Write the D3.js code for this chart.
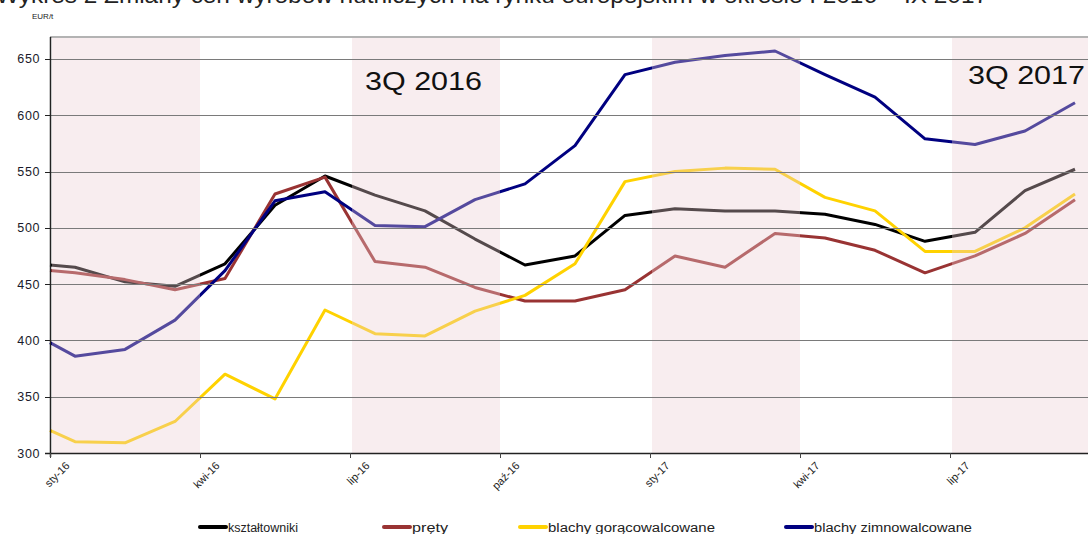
<!DOCTYPE html>
<html>
<head>
<meta charset="utf-8">
<script src="https://cdn.jsdelivr.net/npm/d3@7"></script>
<style>
  html, body { margin: 0; padding: 0; background: #fff; overflow: hidden; }
  svg { display: block; font-family: "Liberation Sans", Arial, sans-serif; }
</style>
</head>
<body>
<svg id="chart" width="1088" height="534"></svg>
<script>
// month offsets from 1 Jan 2016: line start, then mid-month points I 2016 .. IX 2017
var monthPos = [0, 0.5, 1.5, 2.5, 3.5, 4.5, 5.5, 6.5, 7.5, 8.5, 9.5, 10.5, 11.5, 12.5, 13.5, 14.5, 15.5, 16.5, 17.5, 18.5, 19.5, 20.5];

var ksztaltowniki = [467, 465, 452, 448, 468, 520, 546, 529, 515, 490, 467, 475, 511, 517, 515, 515, 512, 503, 488, 496, 533, 552];
var prety = [462, 460, 454, 445, 455, 530, 545, 470, 465, 447, 435, 435, 445, 475, 465, 495, 491, 480, 460, 475, 495, 525];
var blachyGoraco = [320, 310, 309, 328, 370, 348, 427, 406, 404, 426, 440, 468, 541, 550, 553, 552, 527, 515, 479, 479, 500, 530];
var blachyZimno = [398, 386, 392, 418, 462, 524, 532, 502, 501, 525, 539, 573, 636, 647, 653, 657, 636, 616, 579, 574, 586, 611];

var tickMonths = [0, 3, 6, 9, 12, 15, 18];
var tickLabels = ["sty-16", "kwi-16", "lip-16", "paź-16", "sty-17", "kwi-17", "lip-17"];
var yTicks = [300, 350, 400, 450, 500, 550, 600, 650];
// shaded quarters (start month, end month)
var quarters = [[0, 3], [6, 9], [12, 15], [18, 21]];

var seriesNames = ["kształtowniki", "pręty", "blachy gorącowalcowane", "blachy zimnowalcowane"];
var seriesColors = ["#000000", "#993333", "#ffd200", "#000080"];

var svg = d3.select("#chart");
var plotLeft = 50, plotTop = 37, plotBottom = 453;

var x = d3.scaleLinear().domain([0, 21]).range([plotLeft, plotLeft + 21 * 50]);
var y = d3.scaleLinear().domain([300, 300 + (plotBottom - plotTop) / 1.126]).range([plotBottom, plotTop]);

// title (cut off at top in the original)
svg.append("text")
  .attr("x", -4).attr("y", 3)
  .attr("font-size", 22)
  .attr("fill", "#222")
  .attr("textLength", 992).attr("lengthAdjust", "spacingAndGlyphs")
  .text("Wykres 2  Zmiany cen wyrobów hutniczych na rynku europejskim w okresie I 2016 – IX 2017");

svg.append("text")
  .attr("x", 32).attr("y", 19)
  .attr("font-size", 8).attr("fill", "#222")
  .text("EUR/t");

// plot top border
svg.append("line")
  .attr("x1", plotLeft).attr("x2", 1088)
  .attr("y1", plotTop).attr("y2", plotTop)
  .attr("stroke", "#9a9a9a").attr("stroke-width", 1.5);

// lines
var allSeries = [ksztaltowniki, prety, blachyGoraco, blachyZimno];
var line = d3.line()
  .x(function(d, i) { return x(monthPos[i]); })
  .y(function(d) { return y(d); });

svg.append("g").selectAll("path").data(allSeries).enter().append("path")
  .attr("d", line)
  .attr("fill", "none")
  .attr("stroke", function(d, i) { return seriesColors[i]; })
  .attr("stroke-width", 3)
  .attr("stroke-linejoin", "round");

// quarter shading drawn over the lines
svg.append("g").selectAll("rect").data(quarters).enter().append("rect")
  .attr("x", function(d) { return x(d[0]) + 2; })
  .attr("width", function(d) { return x(d[1]) - x(d[0]) - 2; })
  .attr("y", plotTop + 1)
  .attr("height", plotBottom - plotTop - 1)
  .attr("fill", "rgb(235,205,210)")
  .attr("opacity", 0.36);

// gridlines
svg.append("g").selectAll("line").data(yTicks.slice(1)).enter().append("line")
  .attr("x1", plotLeft).attr("x2", 1088)
  .attr("y1", function(d) { return Math.round(y(d)) + 0.5; })
  .attr("y2", function(d) { return Math.round(y(d)) + 0.5; })
  .attr("stroke", "#7a7a7a").attr("stroke-width", 1);

// y axis
var yAxis = svg.append("g");
yAxis.append("line")
  .attr("x1", plotLeft + 0.5).attr("x2", plotLeft + 0.5)
  .attr("y1", plotTop).attr("y2", plotBottom + 4)
  .attr("stroke", "#222").attr("stroke-width", 1.5);
yAxis.selectAll("line.tick").data(yTicks).enter().append("line")
  .attr("class", "tick")
  .attr("x1", plotLeft - 5).attr("x2", plotLeft)
  .attr("y1", function(d) { return Math.round(y(d)) + 0.5; })
  .attr("y2", function(d) { return Math.round(y(d)) + 0.5; })
  .attr("stroke", "#222");
yAxis.selectAll("text").data(yTicks).enter().append("text")
  .attr("x", 40)
  .attr("y", function(d) { return y(d) + 4.5; })
  .attr("text-anchor", "end")
  .attr("font-size", 12.5)
  .attr("letter-spacing", 0.6)
  .attr("fill", "#1a1a2a")
  .text(function(d) { return d; });

// x axis
var xAxis = svg.append("g");
xAxis.append("line")
  .attr("x1", plotLeft - 5).attr("x2", 1088)
  .attr("y1", plotBottom + 0.5).attr("y2", plotBottom + 0.5)
  .attr("stroke", "#222").attr("stroke-width", 1.5);
xAxis.selectAll("line.tick").data(tickMonths).enter().append("line")
  .attr("class", "tick")
  .attr("x1", function(d) { return x(d) + 0.5; })
  .attr("x2", function(d) { return x(d) + 0.5; })
  .attr("y1", plotBottom).attr("y2", plotBottom + 5)
  .attr("stroke", "#444");
xAxis.selectAll("text").data(tickMonths).enter().append("text")
  .attr("transform", function(d) { return "translate(" + (x(d) + 15) + "," + (plotBottom + 8) + ") rotate(-45)"; })
  .attr("text-anchor", "end")
  .attr("dy", "0.7em")
  .attr("font-size", 11)
  .attr("fill", "#222")
  .text(function(d, i) { return tickLabels[i]; });

// quarter annotations
svg.append("text")
  .attr("x", 365).attr("y", 90)
  .attr("font-size", 25).attr("fill", "#111")
  .attr("textLength", 117).attr("lengthAdjust", "spacingAndGlyphs")
  .text("3Q 2016");
svg.append("text")
  .attr("x", 968).attr("y", 84)
  .attr("font-size", 25).attr("fill", "#111")
  .attr("textLength", 117).attr("lengthAdjust", "spacingAndGlyphs")
  .text("3Q 2017");

// legend
var legendX = [200, 384, 520, 786];
var legendW = [70, 36, 167, 158];
var legend = svg.append("g").selectAll("g").data(seriesNames).enter().append("g")
  .attr("transform", function(d, i) { return "translate(" + legendX[i] + ",527)"; });
legend.append("line")
  .attr("x1", 0).attr("x2", 26)
  .attr("stroke", function(d, i) { return seriesColors[i]; })
  .attr("stroke-width", 4).attr("stroke-linecap", "round");
legend.append("text")
  .attr("x", 28).attr("y", 4.5)
  .attr("font-size", 12.5).attr("fill", "#222")
  .attr("textLength", function(d, i) { return legendW[i]; })
  .attr("lengthAdjust", "spacingAndGlyphs")
  .text(function(d) { return d; });
</script>
</body>
</html>
